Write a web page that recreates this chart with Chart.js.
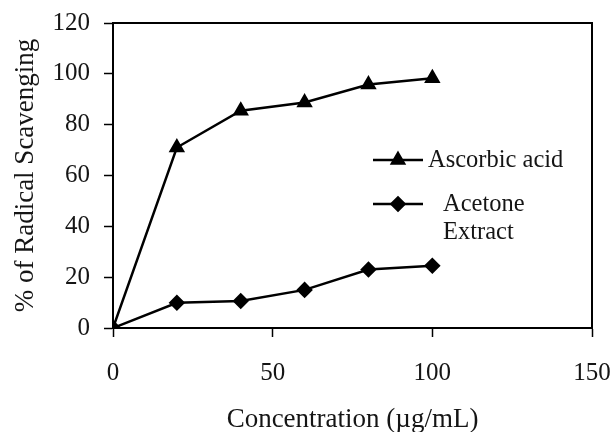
<!DOCTYPE html>
<html lang="en">
<head>
  <meta charset="UTF-8" />
  <title>Radical scavenging</title>
  <style>
    html, body { margin: 0; padding: 0; background: #fff; }
    #wrap { width: 613px; height: 432px; }
  </style>
  <script src="https://cdn.jsdelivr.net/npm/chart.js"></script>
</head>
<body>
  <div id="wrap"><canvas id="chart" width="613" height="432"></canvas></div>

  <script>
    const concentrations = [0, 20, 40, 60, 80, 100];
    const ascorbicAcid = [0, 71, 85.5, 88.7, 95.8, 98.3];
    const acetoneExtract = [0, 9.9, 10.6, 15, 23, 24.5];
    const seriesNames = ['Ascorbic acid', ['Acetone', 'Extract']];
    const xTicks = [0, 50, 100, 150];
    const yTicks = [0, 20, 40, 60, 80, 100, 120];

    const serif = '"Liberation Serif", "Times New Roman", serif';
    const ink = '#151515';

    const toPoints = (xs, ys) => xs.map((x, i) => ({ x: x, y: ys[i] }));

    // top + right frame, and the legend sitting inside the plot
    const extras = {
      id: 'extras',
      afterDraw(chart) {
        const ctx = chart.ctx;
        const a = chart.chartArea;
        ctx.save();
        ctx.strokeStyle = '#000';
        ctx.lineWidth = 2;
        ctx.beginPath();
        ctx.moveTo(a.left, a.top);
        ctx.lineTo(a.right, a.top);
        ctx.lineTo(a.right, a.bottom);
        ctx.stroke();

        const rows = [
          { y: 160, style: 'triangle', r: 7, text: [seriesNames[0]], tx: 428 },
          { y: 204, style: 'rectRot', r: 6.5, text: seriesNames[1], tx: 443 }
        ];
        ctx.font = '24.5px ' + serif;
        ctx.fillStyle = '#000';
        ctx.textBaseline = 'middle';
        ctx.textAlign = 'left';
        rows.forEach(row => {
          ctx.lineWidth = 2.5;
          ctx.beginPath();
          ctx.moveTo(373, row.y);
          ctx.lineTo(423, row.y);
          ctx.stroke();
          ctx.fillStyle = '#000';
          Chart.helpers.drawPoint(ctx, { pointStyle: row.style, radius: row.r, borderWidth: 1 }, 398, row.y);
          ctx.fill();
          ctx.fillStyle = ink;
          row.text.forEach((t, i) => ctx.fillText(t, row.tx, row.y + 1 + i * 28));
        });
        ctx.restore();
      }
    };

    new Chart(document.getElementById('chart'), {
      type: 'line',
      data: {
        datasets: [
          {
            label: 'Ascorbic acid',
            data: toPoints(concentrations, ascorbicAcid),
            borderColor: '#000',
            backgroundColor: '#000',
            borderWidth: 2.5,
            pointStyle: 'triangle',
            pointRadius: 7,
          },
          {
            label: 'Acetone Extract',
            data: toPoints(concentrations, acetoneExtract),
            borderColor: '#000',
            backgroundColor: '#000',
            borderWidth: 2.5,
            pointStyle: 'rectRot',
            pointRadius: 6.5,
          }
        ]
      },
      options: {
        responsive: false,
        animation: false,
        layout: { padding: { top: 23, right: 21, left: 0, bottom: 0 } },
        plugins: {
          legend: { display: false },
          tooltip: { enabled: false }
        },
        scales: {
          x: {
            type: 'linear',
            min: 0,
            max: 150,
            afterFit(scale) {
              scale.height = 104;
              scale.paddingLeft = 0;
              scale.paddingRight = 0;
            },
            afterBuildTicks(scale) { scale.ticks = xTicks.map(v => ({ value: v })); },
            border: { display: true, color: '#000', width: 2 },
            grid: { drawOnChartArea: false, drawTicks: true, tickLength: 9, color: '#000', tickWidth: 1.5 },
            ticks: { color: ink, padding: 21, font: { family: serif, size: 25 } },
            title: {
              display: true,
              text: 'Concentration (µg/mL)',
              color: ink,
              padding: { top: 0, bottom: -4 },
              font: { family: serif, size: 27 }
            }
          },
          y: {
            type: 'linear',
            min: 0,
            max: 120,
            afterFit(scale) {
              scale.width = 113;
              scale.paddingTop = 0;
              scale.paddingBottom = 0;
            },
            afterBuildTicks(scale) { scale.ticks = yTicks.map(v => ({ value: v })); },
            border: { display: true, color: '#000', width: 2 },
            grid: { drawOnChartArea: false, drawTicks: true, tickLength: 9, color: '#000', tickWidth: 1.5 },
            ticks: { color: ink, padding: 14, font: { family: serif, size: 25 } },
            title: {
              display: true,
              text: '% of Radical Scavenging',
              color: ink,
              padding: { top: 10, bottom: 0 },
              font: { family: serif, size: 27 }
            }
          }
        }
      },
      plugins: [extras]
    });
  </script>
</body>
</html>
